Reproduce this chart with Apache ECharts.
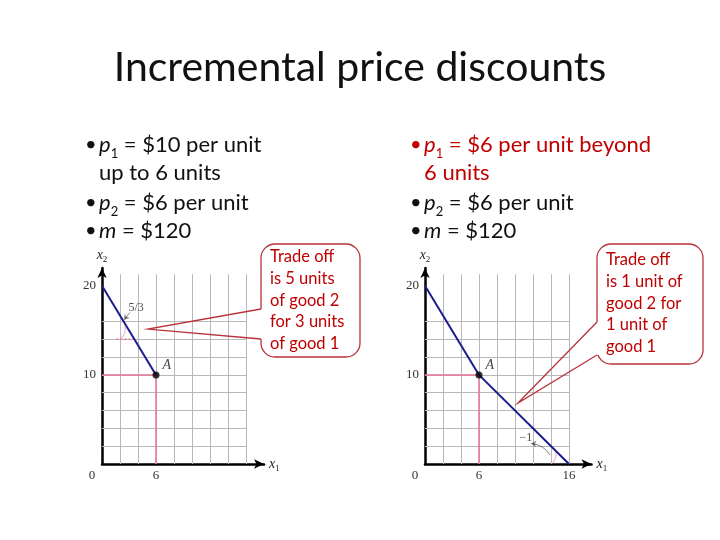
<!DOCTYPE html>
<html>
<head>
<meta charset="utf-8">
<script src="https://cdn.jsdelivr.net/npm/echarts@6/dist/echarts.min.js"></script>
<style>html,body{margin:0;background:#fff}#main{width:720px;height:540px}</style>
</head>
<body>
<div id="main"></div>
<script>
var titleText = 'Incremental price discounts';
var gridTicks = [2, 4, 6, 8, 10, 12, 14, 16];
var gridTopValue = 21.3;
var xLabelsLeft = [0, 6];
var xLabelsRight = [0, 6, 16];
var yLabels = [10, 20];
var budgetLeft = [[0, 20], [6, 10]];
var budgetRight = [[0, 20], [6, 10], [16, 0]];
var pointA = [[6, 10]];
var dropLines = [[0, 10], [6, 10], [6, 0]];
var slopeLeft = [[1.6, 14], [3.6, 14]];
var slopeLabelLeft = [[3.8, 17.5]];
var slopeLabelRight = [[11.2, 2.9]];
var calloutLeft = ['Trade off', 'is 5 units', 'of good 2', 'for 3 units', 'of good 1'];
var calloutRight = ['Trade off', 'is 1 unit of', 'good 2 for', '1 unit of', 'good 1'];
var tipLeft = [5.1, 15.15];
var tipRight = [10.33, 6.85];

var red = '#c00000';
var pink = '#e8739b';
var navy = '#1c1c8c';
var serif = 'Liberation Serif';
var sans = 'Lato';

var dom = document.getElementById('main');
var myChart = echarts.init(dom);

function gridMarks() {
    var d = [];
    gridTicks.forEach(function (t) {
        d.push([{ coord: [t, 0] }, { coord: [t, gridTopValue] }]);
        d.push([{ coord: [0, t] }, { coord: [16, t] }]);
    });
    return d;
}

var nameRich = {
    i: { fontStyle: 'italic', fontFamily: serif, fontSize: 14, color: '#222', lineHeight: 18 },
    s: { fontFamily: serif, fontSize: 9, color: '#222', verticalAlign: 'bottom', lineHeight: 18 }
};

function xAxisFor(gi, max, labels) {
    return {
        gridIndex: gi, type: 'value', min: 0, max: max, interval: 2,
        axisLine: { lineStyle: { color: '#000', width: 2.5 }, symbol: ['none', 'arrow'], symbolSize: [7, 10] },
        axisTick: { show: false },
        splitLine: { show: false },
        axisLabel: {
            margin: 5, fontFamily: serif, fontSize: 13, color: '#333',
            formatter: function (v) {
                if (v === 0) return '{z|0}';
                return labels.indexOf(v) >= 0 ? String(v) : '';
            },
            rich: { z: { fontFamily: serif, fontSize: 13, color: '#333', padding: [0, 20, 0, 0] } }
        },
        name: '{i|x}{s|1}', nameGap: 5,
        nameTextStyle: { rich: nameRich, verticalAlign: 'middle' }
    };
}

function yAxisFor(gi) {
    return {
        gridIndex: gi, type: 'value', min: 0, max: 22, interval: 10,
        axisLine: { lineStyle: { color: '#000', width: 2.5 }, symbol: ['none', 'arrow'], symbolSize: [7, 10] },
        axisTick: { show: false },
        splitLine: { show: false },
        axisLabel: {
            margin: 6, fontFamily: serif, fontSize: 13, color: '#333',
            formatter: function (v) { return yLabels.indexOf(v) >= 0 ? String(v) : ''; }
        },
        name: '{i|x}{s|2}', nameGap: 4,
        nameTextStyle: { rich: nameRich, align: 'center' }
    };
}

function seriesFor(gi, budget) {
    return [
        {
            type: 'line', xAxisIndex: gi, yAxisIndex: gi, data: [], z: 1, silent: true,
            markLine: {
                silent: true, symbol: ['none', 'none'], animation: false, z: 1,
                label: { show: false },
                lineStyle: { color: '#b8b8b8', width: 1, type: 'solid' },
                data: gridMarks()
            }
        },
        {
            type: 'line', xAxisIndex: gi, yAxisIndex: gi, data: dropLines, symbol: 'none',
            lineStyle: { color: pink, width: 1.5 }, z: 3
        },
        {
            type: 'line', xAxisIndex: gi, yAxisIndex: gi, data: budget, symbol: 'none',
            lineStyle: { color: navy, width: 2 }, z: 4
        },
        {
            type: 'scatter', xAxisIndex: gi, yAxisIndex: gi, data: pointA, symbolSize: 7,
            itemStyle: { color: '#000' }, z: 5,
            label: { show: true, formatter: 'A', position: [10, -13], fontFamily: serif, fontStyle: 'italic', fontSize: 14, color: '#111' }
        }
    ];
}

var series = seriesFor(0, budgetLeft).concat(seriesFor(1, budgetRight)).concat([
    {
        type: 'line', xAxisIndex: 0, yAxisIndex: 0, data: slopeLeft, symbol: 'none',
        lineStyle: { color: pink, width: 1.5, type: [2, 2] }, z: 3
    },
    {
        type: 'lines', coordinateSystem: 'cartesian2d', xAxisIndex: 0, yAxisIndex: 0, z: 5,
        symbol: ['none', 'arrow'], symbolSize: 5,
        lineStyle: { color: '#111', width: 1, curveness: 0 },
        data: [{ coords: [[3.1, 17.0], [2.45, 16.2]] }]
    },
    {
        type: 'lines', coordinateSystem: 'cartesian2d', xAxisIndex: 0, yAxisIndex: 0, z: 5,
        symbol: ['none', 'none'],
        lineStyle: { color: pink, width: 1.2, curveness: -0.3 },
        data: [{ coords: [[2.1, 14.1], [2.55, 15.5]] }]
    },
    {
        type: 'scatter', xAxisIndex: 0, yAxisIndex: 0, data: slopeLabelLeft, symbolSize: 1,
        itemStyle: { color: 'transparent' },
        label: { show: true, position: 'inside', formatter: '5/3', fontFamily: serif, fontSize: 12, color: '#222' }
    },
    {
        type: 'lines', coordinateSystem: 'cartesian2d', xAxisIndex: 1, yAxisIndex: 1, z: 5,
        symbol: ['none', 'arrow'], symbolSize: 5,
        lineStyle: { color: '#111', width: 1, curveness: -0.25 },
        data: [{ coords: [[13.9, 1.0], [11.8, 2.3]] }]
    },
    {
        type: 'lines', coordinateSystem: 'cartesian2d', xAxisIndex: 1, yAxisIndex: 1, z: 5,
        symbol: ['none', 'none'],
        lineStyle: { color: pink, width: 1.2, curveness: -0.3 },
        data: [{ coords: [[14.1, 0.05], [14.5, 1.35]] }]
    },
    {
        type: 'scatter', xAxisIndex: 1, yAxisIndex: 1, data: slopeLabelRight, symbolSize: 1,
        itemStyle: { color: 'transparent' },
        label: { show: true, position: 'inside', formatter: '\u22121', fontFamily: serif, fontSize: 12, color: '#222' }
    }
]);

var subRich = {
    i: { fontStyle: 'italic', fontSize: 22, fontFamily: sans, lineHeight: 28 },
    s: { fontSize: 13, fontFamily: sans, verticalAlign: 'bottom', lineHeight: 31 }
};

function bulletText(x, y, text, color, bullet) {
    var rich = {
        i: Object.assign({ fill: color }, subRich.i),
        s: Object.assign({ fill: color }, subRich.s)
    };
    var els = [{
        type: 'text', x: x + 14, y: y, z: 10,
        style: { text: text, rich: rich, fontSize: 22, fontFamily: sans, fill: color, verticalAlign: 'middle', lineHeight: 28 }
    }];
    if (bullet) {
        els.push({
            type: 'text', x: x, y: y, z: 10,
            style: { text: '\u2022', fontSize: 20, fontFamily: sans, fill: color, verticalAlign: 'middle' }
        });
    }
    return els;
}

var graphic = [{
    type: 'text', x: 360, y: 68, z: 10,
    style: { text: titleText, fontSize: 41, fontFamily: sans, fill: '#111', align: 'center', verticalAlign: 'middle' }
}].concat(
    bulletText(85, 145, '{i|p}{s|1} = $10 per unit', '#111', true),
    bulletText(85, 173, 'up to 6 units', '#111', false),
    bulletText(85, 203, '{i|p}{s|2} = $6 per unit', '#111', true),
    bulletText(85, 231, '{i|m} = $120', '#111', true),
    bulletText(410, 145, '{i|p}{s|1} = $6 per unit beyond', red, true),
    bulletText(410, 173, '6 units', red, false),
    bulletText(410, 203, '{i|p}{s|2} = $6 per unit', '#111', true),
    bulletText(410, 231, '{i|m} = $120', '#111', true)
);

myChart.setOption({
    backgroundColor: '#fff',
    animation: false,
    grid: [
        { left: 102, top: 268, width: 162, height: 196 },
        { left: 425, top: 268, width: 166.5, height: 196 }
    ],
    xAxis: [xAxisFor(0, 18, xLabelsLeft), xAxisFor(1, 18.5, xLabelsRight)],
    yAxis: [yAxisFor(0), yAxisFor(1)],
    series: series,
    graphic: graphic
});

function callout(box, j1, j2, tip, lines, tx, ty) {
    var stroke = '#b8323c';
    return [
        {
            type: 'rect', z: 20,
            shape: { x: box[0], y: box[1], width: box[2] - box[0], height: box[3] - box[1], r: 14 },
            style: { fill: '#fff', stroke: stroke, lineWidth: 1.3 }
        },
        {
            type: 'line', z: 21,
            shape: { x1: box[0], y1: j1, x2: box[0], y2: j2 },
            style: { stroke: '#fff', lineWidth: 3 }
        },
        {
            type: 'polyline', z: 21,
            shape: { points: [[box[0], j1], tip, [box[0], j2]] },
            style: { fill: 'none', stroke: stroke, lineWidth: 1.3 }
        },
        {
            type: 'text', x: tx, y: ty, z: 22,
            style: { text: lines.join('\n'), fontSize: 16.5, fontFamily: sans, fill: red, lineHeight: 21.7 }
        }
    ];
}

var pL = myChart.convertToPixel({ gridIndex: 0 }, tipLeft);
var pR = myChart.convertToPixel({ gridIndex: 1 }, tipRight);

myChart.setOption({
    graphic: graphic.concat(
        callout([261, 244, 360, 357], 309, 339, pL, calloutLeft, 270, 246),
        callout([597, 244, 703, 364], 322, 355, pR, calloutRight, 606, 249)
    )
});
</script>
</body>
</html>
